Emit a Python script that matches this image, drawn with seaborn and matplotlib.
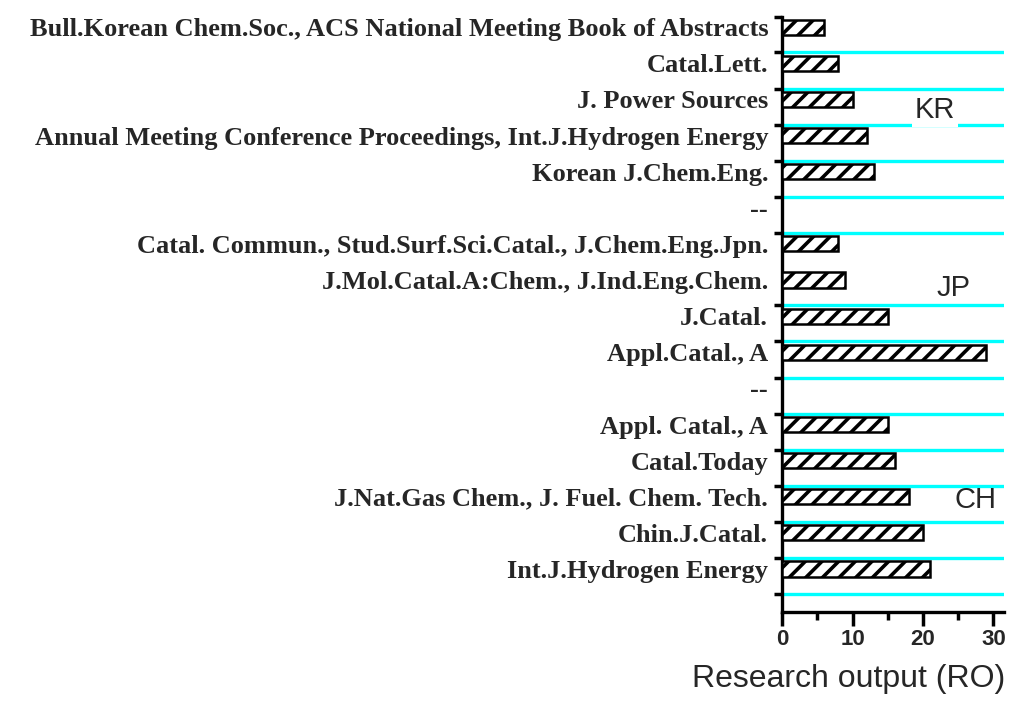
import numpy as np
import pandas as pd
import matplotlib
matplotlib.use("Agg")
import matplotlib.pyplot as plt
import seaborn as sns

# journal labels, top to bottom ("--" rows separate the country groups)
journals = ["Bull.Korean Chem.Soc., ACS National Meeting Book of Abstracts",
            "Catal.Lett.",
            "J. Power Sources",
            "Annual Meeting Conference Proceedings, Int.J.Hydrogen Energy",
            "Korean J.Chem.Eng.",
            "--",
            "Catal. Commun., Stud.Surf.Sci.Catal., J.Chem.Eng.Jpn.",
            "J.Mol.Catal.A:Chem., J.Ind.Eng.Chem.",
            "J.Catal.",
            "Appl.Catal., A",
            "--",
            "Appl. Catal., A",
            "Catal.Today",
            "J.Nat.Gas Chem., J. Fuel. Chem. Tech.",
            "Chin.J.Catal.",
            "Int.J.Hydrogen Energy"]
research_output = [6, 8, 10, 12, 13, np.nan, 8, 9, 15, 29, np.nan, 15, 16, 18, 20, 21]
groups = ["KR", "JP", "CH"]
group_rows = [2.3, 7.22, 13.1]   # row where each country tag sits
group_x = [21.7, 24.3, 27.4]

# unique keys so the two "--" rows stay separate slots
keys = [f"{i:02d}" for i in range(len(journals))]
df = pd.DataFrame({"key": keys, "RO": research_output})

sns.set_style("ticks")
plt.rcParams["hatch.linewidth"] = 2.6

fig = plt.figure(figsize=(10.24, 7.06), dpi=100)
ax = fig.add_axes([0.7637, 0.1331, 0.2168, 0.8428])

sns.barplot(data=df, x="RO", y="key", order=keys, orient="h", color="white",
            saturation=1, edgecolor="black", linewidth=1.8, hatch="//",
            width=0.42, errorbar=None, ax=ax, zorder=3)

# cyan separator lines below each row (none after the Catal. Commun. row)
bounds = [i + 0.7 for i in range(len(journals)) if i != 6]
for b in bounds:
    ax.axhline(b, color="#00FFFF", lw=2.4, zorder=1)

ax.set_xlim(0, 31.5)
ax.set_ylim(16.19, -0.28)

ax.set_yticks(range(len(journals)))
ax.set_yticklabels(journals, fontfamily="Liberation Serif", fontweight="bold",
                   fontsize=19)
ax.set_yticks([-0.28] + bounds, minor=True)
ax.tick_params(axis="y", which="major", length=0, pad=10)
ax.tick_params(axis="y", which="minor", length=6, width=2.5, color="black")

ax.set_xticks([0, 10, 20, 30])
ax.set_xticks([5, 15, 25], minor=True)
ax.set_xticklabels(["0", "10", "20", "30"], fontfamily="Liberation Sans",
                   fontsize=16, fontweight="bold")
ax.tick_params(axis="x", which="major", length=10, width=2.5, color="black", pad=2)
ax.tick_params(axis="x", which="minor", length=6, width=2.5, color="black")

ax.set_ylabel("")
ax.set_xlabel("Research output (RO)", fontfamily="Liberation Sans", fontsize=23)
ax.xaxis.set_label_coords(0.3, -0.088)

sns.despine(ax=ax)
for s in ["left", "bottom"]:
    ax.spines[s].set_linewidth(2.4)
    ax.spines[s].set_color("black")

for g, r, x in zip(groups, group_rows, group_x):
    # only the KR tag cuts through the cyan line in the original
    box = dict(facecolor="white", edgecolor="none", pad=2) if g == "KR" else None
    ax.text(x, r, g, fontfamily="Liberation Sans", fontsize=21, ha="center",
            va="center", zorder=4, bbox=box)

fig.savefig("out.png", dpi=100)
